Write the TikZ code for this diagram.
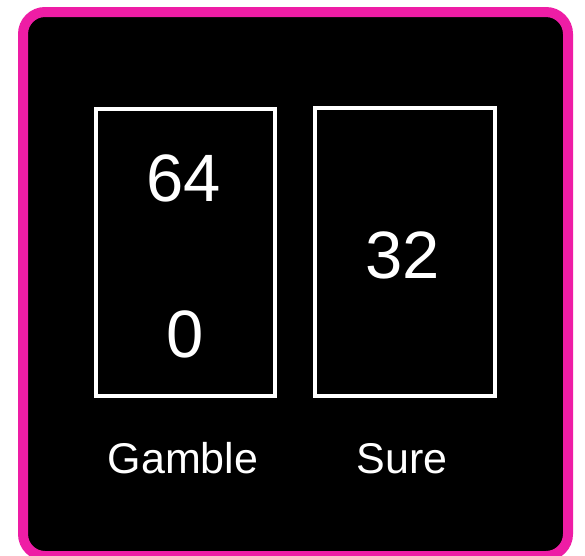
\documentclass[tikz,border=0pt]{standalone}
\usepackage{fontspec}
\setmainfont{Liberation Sans}
\definecolor{pinkb}{RGB}{238,29,165}
\begin{document}
\begin{tikzpicture}[x=1pt,y=-1pt,
  box/.style={draw=white,line width=3.5pt,inner sep=0pt},
  num/.style={text=white,font=\fontsize{67}{67}\selectfont,inner sep=0pt,anchor=base},
  lbl/.style={text=white,font=\fontsize{43}{43}\selectfont,inner sep=0pt,anchor=base}]
\useasboundingbox (0,0) rectangle (585,555);
\fill[white] (0,0) rectangle (585,555);
\clip (0,0) rectangle (585,555);
\draw[pinkb,line width=10pt,fill=black,rounded corners=22pt] (23,12) rectangle (568,556);
\node[box,minimum width=179pt,minimum height=287pt] (gamble) at (185.5,252.5) {};
\node[box,minimum width=180pt,minimum height=288pt] (sure) at (405,252) {};
\node[num] (n64) at (184,201) {64};
\node[num] (n0) at (185,357) {0};
\node[num] (n32) at (403,278) {32};
\node[lbl] (lg) at (183,473) {Gamble};
\node[lbl] (ls) at (402,473) {Sure};
\end{tikzpicture}
\end{document}
